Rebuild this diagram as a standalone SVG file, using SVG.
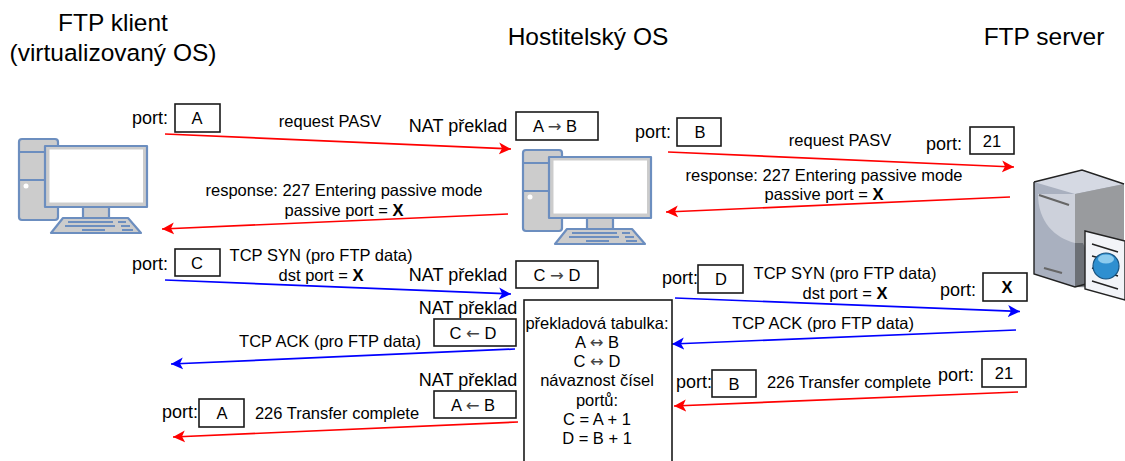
<svg xmlns="http://www.w3.org/2000/svg" width="1125" height="461" viewBox="0 0 1125 461">
<style>
text{font-family:"Liberation Sans",Arial,sans-serif;fill:#000;text-anchor:middle}
.h{font-size:24.5px}
.t{font-size:16.5px}
.p{font-size:18px}
.a{font-family:"DejaVu Sans",sans-serif;fill:#444}
.b{fill:#fff;stroke:#1a1a1a;stroke-width:1.6}
.r{stroke:#f00;stroke-width:1.7;fill:none;marker-end:url(#mr)}
.u{stroke:#00f;stroke-width:1.7;fill:none;marker-end:url(#mb)}
.c{fill:#ccc;stroke:#6c8ebf;stroke-width:2.2;stroke-linejoin:round}
</style>
<defs>
<marker id="mr" markerUnits="userSpaceOnUse" markerWidth="14" markerHeight="14" refX="12" refY="6.5" orient="auto"><path d="M0,0.5 L12,6.5 L0,12.5 L3,6.5Z" fill="#f00"/></marker>
<marker id="mb" markerUnits="userSpaceOnUse" markerWidth="14" markerHeight="14" refX="12" refY="6.5" orient="auto"><path d="M0,0.5 L12,6.5 L0,12.5 L3,6.5Z" fill="#00f"/></marker>
<g id="pc">
<rect class="c" x="19" y="139" width="39" height="81" rx="3"/>
<path class="c" fill="none" d="M19,152H45M19,180H45"/>
<circle cx="26" cy="186" r="2.5" fill="#fff"/>
<rect class="c" x="83" y="207" width="26" height="11"/>
<rect class="c" x="45" y="146" width="102" height="61"/>
<rect x="49.5" y="149.5" width="93.500" height="53" fill="#fff"/>
<path class="c" d="M63,218H128L141,233H51Z"/>
<path stroke="#6c8ebf" stroke-width="2" fill="none" d="M68,222H113M118,222H126M65,226H115M121,226H130M82,230H105M122,230H133"/>
</g>
</defs>
<g id="labels-top">
<text class="h" x="113" y="31">FTP klient</text>
<text class="h" x="113" y="61">(virtualizovaný OS)</text>
<text class="h" x="588" y="45">Hostitelský OS</text>
<text class="h" x="1044" y="45">FTP server</text>
</g>
<g id="client"><use href="#pc"/></g>
<g id="host"><use href="#pc" x="504" y="11"/></g>
<g id="server">
<path d="M1034,182L1082,170L1124,184V288L1075,287L1034,274Z" fill="#a9b0bf"/>
<path d="M1034,182L1082,170L1124,184L1075,194Z" fill="#d5d9e3"/>
<path d="M1075,194L1124,184V288L1075,287Z" fill="#999b9e"/>
<path d="M1075,243V287L1100,285L1083,243Z" fill="#6c7076"/>
<path d="M1038,194L1075,194V243C1055,238 1038,222 1038,194Z" fill="#cdd1db"/>
<path d="M1034,182L1082,170L1124,184M1034,182V274L1075,287L1086,284" fill="none" stroke="#222" stroke-width="1.4"/>
<path d="M1039,195L1069,205M1044,268L1062,273" stroke="#666" stroke-width="2.2" fill="none"/>
<path d="M1085,231L1125,241V300L1085,289Z" fill="#f2f4f8" stroke="#222" stroke-width="1.4"/>
<path d="M1092,244L1118,252M1092,256L1118,263M1092,281L1118,289M1092,268L1118,276" stroke="#222" stroke-width="1.4"/>
<circle cx="1106" cy="266" r="13" fill="#2e8fd0" stroke="#17527f" stroke-width="1.2"/>
<ellipse cx="1106" cy="259" rx="8" ry="4.500" fill="#8ccbee"/>
</g>
<g id="connectors">
<path class="r" d="M165,134L511,149"/>
<path class="r" d="M508,214L162,229"/>
<path class="u" d="M165,280L511,294"/>
<path class="u" d="M515,349L171,364"/>
<path class="r" d="M518,422L173,437"/>
<path class="r" d="M668,152L1014,167"/>
<path class="r" d="M1010,197L666,212"/>
<path class="u" d="M675,298L1020,311.500"/>
<path class="u" d="M1016,330L672,344"/>
<path class="r" d="M1018,392L674,406"/>
</g>
<g id="box-a"><text class="p" x="150" y="124">port:</text><rect class="b" x="175" y="104" width="45" height="28"/><text class="t" x="197" y="124">A</text></g>
<g id="box-c"><text class="p" x="150" y="270">port:</text><rect class="b" x="175" y="249" width="45" height="27"/><text class="t" x="197" y="269">C</text></g>
<g id="box-a2"><text class="p" x="180" y="418">port:</text><rect class="b" x="199" y="399" width="45" height="28"/><text class="t" x="222" y="419">A</text></g>
<g id="nat-ab"><text class="p" x="458" y="132">NAT překlad</text><rect class="b" x="516" y="112" width="82" height="28"/><text class="t" x="555" y="132">A <tspan class="a">→</tspan> B</text></g>
<g id="nat-cd"><text class="p" x="458" y="281">NAT překlad</text><rect class="b" x="516" y="261" width="82" height="27"/><text class="t" x="557" y="281">C <tspan class="a">→</tspan> D</text></g>
<g id="nat-cd2"><text class="p" x="468" y="314">NAT překlad</text><rect class="b" x="434" y="319" width="82" height="27"/><text class="t" x="473" y="339">C <tspan class="a">←</tspan> D</text></g>
<g id="nat-ab2"><text class="p" x="468" y="386">NAT překlad</text><rect class="b" x="434" y="391" width="82" height="27"/><text class="t" x="473" y="411">A <tspan class="a">←</tspan> B</text></g>
<g id="box-b"><text class="p" x="653" y="138">port:</text><rect class="b" x="677" y="118" width="44" height="28"/><text class="t" x="700" y="138">B</text></g>
<g id="box-21"><text class="p" x="944" y="150">port:</text><rect class="b" x="970" y="127" width="44" height="27"/><text class="t" x="992" y="147">21</text></g>
<g id="box-d"><text class="p" x="680" y="284">port:</text><rect class="b" x="698" y="265" width="45" height="28"/><text class="t" x="721" y="285">D</text></g>
<g id="box-x"><text class="p" x="958" y="296">port:</text><rect class="b" x="983" y="273" width="44" height="28"/><text class="t" x="1007" y="293" font-weight="bold">X</text></g>
<g id="box-b2"><text class="p" x="694" y="388">port:</text><rect class="b" x="712" y="370" width="44" height="27"/><text class="t" x="734" y="390">B</text></g>
<g id="box-212"><text class="p" x="956" y="381">port:</text><rect class="b" x="982" y="359" width="44" height="28"/><text class="t" x="1004" y="379">21</text></g>
<g id="table">
<rect class="b" x="524" y="300" width="148" height="170"/>
<text class="t" x="597" y="329">překladová tabulka:</text>
<text class="t" x="597" y="348">A <tspan class="a">↔</tspan> B</text>
<text class="t" x="597" y="367">C <tspan class="a">↔</tspan> D</text>
<text class="t" x="597" y="386">návaznost čísel</text>
<text class="t" x="597" y="406">portů:</text>
<text class="t" x="597" y="425">C = A + 1</text>
<text class="t" x="597" y="444">D = B + 1</text>
</g>
<g id="edge-labels">
<text class="t" x="330" y="127">request PASV</text>
<text class="t" x="344" y="196">response: 227 Entering passive mode</text>
<text class="t" x="344" y="216">passive port = <tspan font-weight="bold">X</tspan></text>
<text class="t" x="321" y="261">TCP SYN (pro FTP data)</text>
<text class="t" x="321" y="281">dst port = <tspan font-weight="bold">X</tspan></text>
<text class="t" x="330" y="347">TCP ACK (pro FTP data)</text>
<text class="t" x="337" y="419">226 Transfer complete</text>
<text class="t" x="840" y="146">request PASV</text>
<text class="t" x="824" y="181">response: 227 Entering passive mode</text>
<text class="t" x="824" y="200">passive port = <tspan font-weight="bold">X</tspan></text>
<text class="t" x="845" y="279">TCP SYN (pro FTP data)</text>
<text class="t" x="845" y="299">dst port = <tspan font-weight="bold">X</tspan></text>
<text class="t" x="823" y="329">TCP ACK (pro FTP data)</text>
<text class="t" x="849" y="388">226 Transfer complete</text>
</g>
</svg>
